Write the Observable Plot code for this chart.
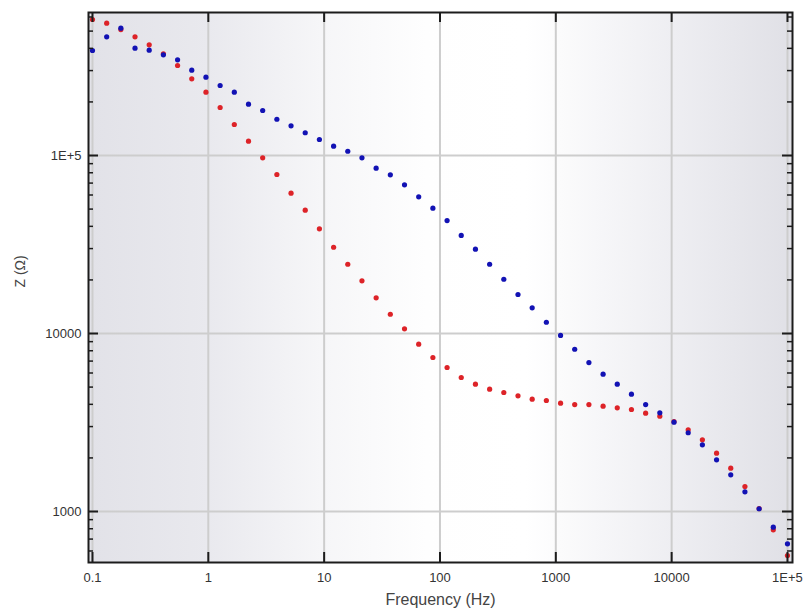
<!DOCTYPE html>
<html>
<head>
<meta charset="utf-8">
<script src="https://cdn.jsdelivr.net/npm/d3@7"></script>
<script src="https://cdn.jsdelivr.net/npm/@observablehq/plot@0.6"></script>
<style>
  html, body { margin: 0; padding: 0; background: #fff; }
</style>
</head>
<body>
<div id="chart"></div>
<script>
// Frequency (Hz) of each measured point
const freq = [0.1, 0.1326, 0.1758, 0.2330, 0.3089, 0.4095, 0.5429, 0.7197, 0.9541, 1.265,
  1.677, 2.223, 2.947, 3.907, 5.179, 6.866, 9.103, 12.07, 16.00, 21.21,
  28.12, 37.28, 49.42, 65.52, 86.86, 115.2, 152.6, 202.4, 268.3, 355.7,
  471.5, 625.1, 828.7, 1099, 1456, 1931, 2560, 3393, 4498, 5964,
  7906, 10481, 13895, 18421, 24421, 32375, 42919, 56898, 75431, 100000];

// Z (Ohm), red series
const zRed = [581000, 553700, 510000, 464500, 418800, 372600, 320400, 269800, 226800, 186100,
  149400, 120300, 97100, 78200, 61400, 49300, 38750, 30530, 24500, 19770,
  15870, 12830, 10620, 8710, 7330, 6440, 5660, 5190, 4865, 4662,
  4467, 4275, 4204, 4059, 3990, 3990, 3905, 3825, 3741, 3566,
  3430, 3200, 2877, 2528, 2126, 1751, 1381, 1039, 789, 566];

// Z (Ohm), blue series
const zBlue = [389000, 464000, 519000, 401000, 390700, 368000, 345000, 301500, 275400, 247400,
  226800, 194200, 179000, 159900, 146800, 134200, 123000, 112800, 105700, 97100,
  84900, 77900, 68400, 58600, 50600, 43100, 35550, 29770, 24500, 20180,
  16560, 13940, 11570, 9750, 8160, 6870, 5910, 5190, 4560, 3990,
  3585, 3175, 2770, 2370, 1952, 1608, 1290, 1036, 816, 658];

const xTicks = [0.1, 1, 10, 100, 1000, 10000, 100000];
const xTickLabels = ["0.1", "1", "10", "100", "1000", "10000", "1E+5"];
const yTicks = [1000, 10000, 100000];
const yTickLabels = ["1000", "10000", "1E+5"];
const yMinorTicks = [600, 700, 800, 900,
  2000, 3000, 4000, 5000, 6000, 7000, 8000, 9000,
  20000, 30000, 40000, 50000, 60000, 70000, 80000, 90000,
  200000, 300000, 400000, 500000, 600000];
const xTitle = ["Frequency (Hz)"];
const yTitle = ["Z (\u03A9)"];

const red = freq.map((f, i) => ({f, z: zRed[i]}));
const blue = freq.map((f, i) => ({f, z: zBlue[i]}));

const W = 809, H = 613;
const mL = 88, mR = 17, mT = 12, mB = 51;
const plotW = W - mL - mR, plotH = H - mT - mB;
const axisColor = "#1c1c1c";

const gradientDefs = () => {
  const defs = d3.create("svg:defs");
  const g = defs.append("linearGradient").attr("id", "bgGrad")
    .attr("x1", "0").attr("x2", "1").attr("y1", "0").attr("y2", "0");
  [[0, "#e2e2e8"], [0.17, "#e9e9ee"], [0.33, "#f6f6f8"], [0.48, "#fefefe"], [0.62, "#ffffff"], [0.83, "#eeeef2"], [1, "#e0e0e6"]]
    .forEach(([o, c]) => g.append("stop").attr("offset", o).attr("stop-color", c));
  return defs.node();
};

const chart = Plot.plot({
  width: W,
  height: H,
  marginLeft: mL,
  marginRight: mR,
  marginTop: mT,
  marginBottom: mB,
  style: {fontFamily: "'Liberation Sans', Arial, sans-serif", background: "#fff", overflow: "visible"},
  x: {type: "log", domain: [0.0924, 110500], axis: null},
  y: {type: "log", domain: [517, 636000], axis: null},
  marks: [
    gradientDefs,
    Plot.frame({fill: "url(#bgGrad)", stroke: null}),
    Plot.gridX(xTicks, {stroke: "#cdcdcd", strokeWidth: 2, strokeOpacity: 1}),
    Plot.gridY(yTicks, {stroke: "#cdcdcd", strokeWidth: 2, strokeOpacity: 1}),
    Plot.dot(red, {x: "f", y: "z", r: 2.6, fill: "#dd2328", stroke: null}),
    Plot.dot(blue, {x: "f", y: "z", r: 2.6, fill: "#1212b4", stroke: null}),
    // major ticks, inward
    Plot.tickX(xTicks, {x: d => d, insetTop: plotH - 10, stroke: axisColor, strokeWidth: 2}),
    Plot.tickX(xTicks, {x: d => d, insetBottom: plotH - 10, stroke: axisColor, strokeWidth: 2}),
    Plot.tickY(yTicks, {y: d => d, insetRight: plotW - 10, stroke: axisColor, strokeWidth: 2}),
    Plot.tickY(yTicks, {y: d => d, insetLeft: plotW - 10, stroke: axisColor, strokeWidth: 2}),
    // minor ticks on y sides
    Plot.tickY(yMinorTicks, {y: d => d, insetRight: plotW - 5, stroke: axisColor, strokeWidth: 1.5}),
    Plot.tickY(yMinorTicks, {y: d => d, insetLeft: plotW - 5, stroke: axisColor, strokeWidth: 1.5}),
    Plot.frame({stroke: axisColor, strokeWidth: 2}),
    // tick labels
    Plot.text(xTicks, {x: d => d, text: (d, i) => xTickLabels[i], frameAnchor: "bottom", lineAnchor: "top", dy: 10, fontSize: 13, fill: "#333"}),
    Plot.text(yTicks, {y: d => d, text: (d, i) => yTickLabels[i], frameAnchor: "left", textAnchor: "end", dx: -7, fontSize: 13, fill: "#333"}),
    // axis titles
    Plot.text(xTitle, {text: d => d, frameAnchor: "bottom", lineAnchor: "top", dy: 31, fontSize: 16, fill: "#444"}),
    Plot.text(yTitle, {text: d => d, frameAnchor: "left", rotate: -90, dx: -68, fontSize: 14, fill: "#444"})
  ]
});

document.getElementById("chart").appendChild(chart);
</script>
</body>
</html>
